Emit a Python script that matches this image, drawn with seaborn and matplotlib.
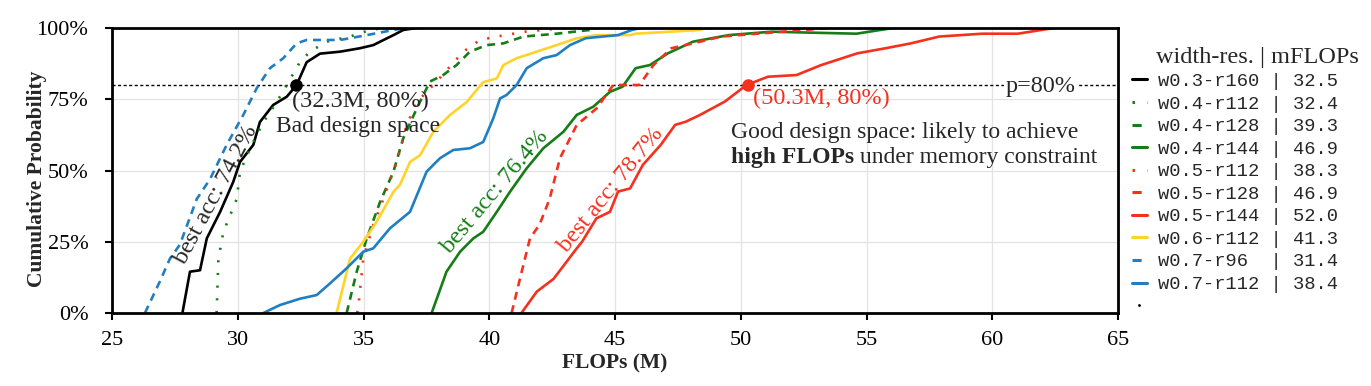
import pandas as pd
import matplotlib
matplotlib.use("Agg")
import matplotlib.pyplot as plt
from matplotlib.lines import Line2D
from matplotlib.ticker import PercentFormatter
import seaborn as sns

# CDF curves: FLOPs (M) and cumulative probability (%)
w03_r160_x = [27.8, 28.1, 28.5, 28.77, 29.3, 29.82, 30.09, 30.62, 30.88, 31.41, 31.95, 32.34, 32.74,
              33.27, 34.07, 34.86, 35.39, 35.66, 36.19, 36.58, 37.1]
w03_r160_y = [0, 14.5, 15, 26.2, 35.5, 46, 53, 59, 67, 73, 75.9, 80, 88, 91, 91.7, 92.9, 94, 95.2,
              97.5, 99.3, 100]

w04_r112_x = [29.16, 29.23, 29.43, 29.96, 30.09, 30.49, 31.02, 31.55, 31.95, 32.47, 32.87, 33.54,
              34.46, 35.26, 35.8]
w04_r112_y = [0, 19, 28.5, 40, 49.6, 57.8, 67, 74, 80, 88, 91.7, 95.2, 97, 99.3, 100]

w04_r128_x = [34.33, 34.73, 35.13, 35.66, 36.19, 36.58, 37.12, 37.64, 38.17, 38.7, 39.23, 39.9,
              40.56, 41.36, 42.68, 44.0, 44.3]
w04_r128_y = [0, 14.5, 26.2, 39, 49.6, 61.3, 71.8, 81.2, 83.5, 87, 91.7, 94, 94.6, 97, 98, 99.3, 100]

w04_r144_x = [37.71, 38.3, 38.84, 39.37, 39.76, 40.3, 40.83, 41.49, 42.15, 42.95, 43.48, 44.14,
              44.8, 45.3, 45.82, 46.39, 47.1, 48.1, 49.52, 51.22, 54.6, 55.76, 56.0]
w04_r144_y = [0, 14.5, 21.5, 26.2, 28.5, 35.5, 42.6, 50.8, 57.8, 63.6, 69.5, 72.4, 77.6, 79.4,
              85.9, 87, 91.1, 95.2, 97.5, 98.7, 98, 99.6, 100]

w05_r112_x = [34.75, 34.8, 34.99, 35.39, 35.79, 36.32, 36.72, 37.12, 37.78, 38.97, 39.63, 40.3,
              41.49, 43.0]
w05_r112_y = [0, 2.8, 19, 30.9, 40, 53, 66, 74, 80, 91.7, 95.8, 97, 98.8, 100]

w05_r128_x = [40.89, 41.22, 41.62, 42.0, 42.4, 42.81, 43.48, 44.27, 44.93, 45.97, 46.53, 47.24,
              48.1, 49.23, 52.5, 53.5]
w05_r128_y = [0, 12, 26.2, 31, 40, 54.3, 66, 71.8, 80, 80, 87, 92.9, 94.6, 97, 99.3, 100]

w05_r144_x = [41.28, 41.89, 42.56, 43.48, 43.69, 44.26, 44.8, 45.12, 45.6, 46.11, 46.82, 47.39,
              47.81, 48.38, 49.37, 50.23, 51.08, 52.22, 53.2, 54.63, 55.76, 56.76, 57.89, 59.6,
              61.02, 62.15, 62.5]
w05_r144_y = [0, 7.5, 12, 22.7, 25, 33.2, 35.5, 42.6, 43.7, 52, 59, 66, 67.1, 69.5, 74.2, 80,
              82.9, 83.5, 87, 91.1, 92.9, 94.6, 97, 98, 98, 99.6, 100]

w06_r112_x = [33.93, 34.46, 34.99, 35.52, 36.19, 36.45, 36.85, 37.25, 37.78, 38.44, 39.1, 39.76,
              40.3, 40.56, 41.09, 41.89, 42.68, 43.48, 44.27, 45.6, 45.82, 48.38, 48.6]
w06_r112_y = [0, 19, 25, 32, 42.5, 45, 53, 55.4, 63.6, 69.5, 74, 81, 82.3, 87, 89.4, 91.7, 94,
              96.4, 97.5, 97.5, 98, 99.3, 100]

w07_r96_x = [26.31, 26.9, 27.3, 27.7, 28.37, 28.9, 29.56, 30.22, 30.75, 31.28, 31.81, 32.34,
             32.74, 34.07, 35.13, 36.19, 36.7]
w07_r96_y = [0, 11, 19, 24, 40, 47, 59, 69.5, 78.8, 85.9, 89.4, 94.6, 95.8, 95.8, 97.5, 99.3, 100]

w07_r112_x = [31.02, 31.68, 32.47, 33.14, 33.67, 34.33, 34.99, 35.39, 36.05, 36.85, 37.51, 38.04,
              38.57, 39.23, 39.76, 40.16, 40.43, 40.69, 41.09, 41.49, 42.15, 42.68, 43.21, 43.83,
              44.27, 45.12, 45.67, 46.0]
w07_r112_y = [0, 2.8, 5, 6.3, 10.4, 15.7, 21.5, 22.7, 29.7, 35.5, 49.6, 54.3, 57.2, 57.8, 60,
              68.3, 75.3, 76.5, 80, 85.9, 89.4, 90.5, 94, 96.4, 96.8, 97.5, 99.3, 100]

names = ["w0.3-r160", "w0.4-r112", "w0.4-r128", "w0.4-r144", "w0.5-r112",
         "w0.5-r128", "w0.5-r144", "w0.6-r112", "w0.7-r96", "w0.7-r112"]
mflops = ["32.5", "32.4", "39.3", "46.9", "38.3", "46.9", "52.0", "41.3", "31.4", "38.4"]
curves = [(w03_r160_x, w03_r160_y), (w04_r112_x, w04_r112_y), (w04_r128_x, w04_r128_y),
          (w04_r144_x, w04_r144_y), (w05_r112_x, w05_r112_y), (w05_r128_x, w05_r128_y),
          (w05_r144_x, w05_r144_y), (w06_r112_x, w06_r112_y), (w07_r96_x, w07_r96_y),
          (w07_r112_x, w07_r112_y)]

BLACK, GREEN, RED, YELLOW, BLUE = "#000000", "#157d15", "#f5301e", "#ffd42a", "#1f7fc2"
colors = [BLACK, GREEN, GREEN, GREEN, RED, RED, RED, YELLOW, BLUE, BLUE]
dotted = (0, (0.8, 4))
dashed = (0, (3, 2.2))
styles = ["-", dotted, dashed, "-", dotted, dashed, "-", "-", dashed, "-"]

sns.set_style("whitegrid")
plt.rcParams["font.family"] = ["Liberation Serif", "DejaVu Serif"]

fig = plt.figure(figsize=(13.71, 3.86), dpi=100)
ax = fig.add_axes([112 / 1371, 73 / 386, 1006 / 1371, 285 / 386])

handles = []
for name, val, (xs, ys), c, ls in zip(names, mflops, curves, colors, styles):
    df = pd.DataFrame({"flops": xs, "p": [v / 100 for v in ys]})
    sns.lineplot(data=df, x="flops", y="p", ax=ax, color=c, linestyle=ls,
                 linewidth=1.9, sort=False, estimator=None)
    handles.append(Line2D([], [], color=c, linestyle=ls, linewidth=2.2))

# 80% reference line
ax.axhline(0.8, color="black", linestyle=(0, (2.2, 1.8)), linewidth=1.0, zorder=1)
ax.text(61.94, 0.795, "p=80%", fontsize=17.5, ha="center", va="center",
        bbox=dict(facecolor="white", edgecolor="none", pad=1.5), zorder=3)

# highlighted points
ax.plot([32.3], [0.8], "o", color=BLACK, markersize=8, zorder=5)
ax.plot([50.3], [0.8], "o", color=RED, markersize=8, zorder=5)
ax.text(32.15, 0.741, "(32.3M, 80%)", fontsize=17.5, ha="left", va="center")
ax.text(34.78, 0.654, "Bad design space", fontsize=17, ha="center", va="center")
ax.text(50.49, 0.754, "(50.3M, 80%)", fontsize=17.5, color=RED, ha="left", va="center")
ax.text(49.6, 0.632, "Good design space: likely to achieve", fontsize=17,
        ha="left", va="center")
t1 = ax.text(49.6, 0.544, "high FLOPs", fontsize=17, fontweight="bold",
             ha="left", va="center")
ax.annotate(" under memory constraint", xy=(1, 0), xycoords=t1, fontsize=17,
            ha="left", va="bottom")

# rotated best-accuracy labels
ax.text(29.16, 0.414, "best acc: 74.2%", fontsize=17.5, rotation=62,
        rotation_mode="anchor", ha="center", va="center")
ax.text(40.23, 0.426, "best acc: 76.4%", fontsize=17.5, rotation=50, color=GREEN,
        rotation_mode="anchor", ha="center", va="center")
ax.text(44.83, 0.432, "best acc: 78.7%", fontsize=17.5, rotation=51, color=RED,
        rotation_mode="anchor", ha="center", va="center")

ax.set_xlim(25, 65)
ax.set_ylim(0, 1)
ax.set_xticks(range(25, 66, 5))
ax.set_yticks([0, 0.25, 0.5, 0.75, 1.0])
ax.yaxis.set_major_formatter(PercentFormatter(1.0, decimals=0))
ax.grid(True, color="#e3e3e3", linewidth=0.9)
ax.tick_params(axis="both", labelsize=16, direction="out", length=5, width=1.5,
               colors="black", bottom=True, left=True)
ax.tick_params(axis="x", pad=8)
ax.tick_params(axis="y", pad=12)
for sp in ax.spines.values():
    sp.set_color("black")
    sp.set_linewidth(2.0)

ax.set_xlabel("FLOPs (M)", fontsize=15.5, fontweight="bold")
ax.set_ylabel("Cumulative Probability", fontsize=15.5, fontweight="bold")
ax.xaxis.set_label_coords(0.5, (313 - 353) / 285)
ax.yaxis.set_label_coords((47 - 112) / 1006, 0.47)

labels = [f"{n:<9} | {v}" for n, v in zip(names, mflops)]
handles.append(Line2D([], [], color="black", marker=".", markersize=2, linestyle="none"))
labels.append("")
fig.legend(handles, labels, loc="upper left", bbox_to_anchor=(1130 / 1371, 1 - 71 / 386),
           frameon=False, handlelength=0.8, handletextpad=0.6, labelspacing=0.29,
           borderpad=0.1, borderaxespad=0,
           prop={"family": "Liberation Mono", "size": 13.5})
fig.text(1257 / 1371, 1 - 58 / 386, "width-res. | mFLOPs", fontsize=17.5,
         ha="center", va="center")

fig.savefig("out.png", dpi=100)
